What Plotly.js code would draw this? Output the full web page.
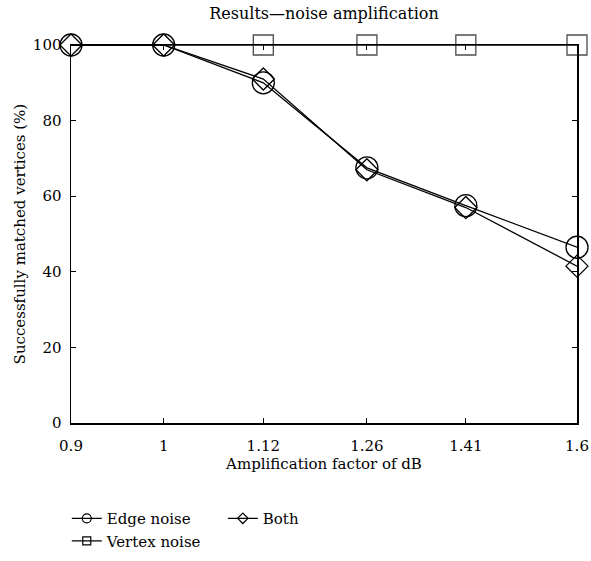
<!DOCTYPE html>
<html>
<head>
<meta charset="utf-8">
<script src="https://cdn.plot.ly/plotly-3.0.1.min.js"></script>
<style>html,body{margin:0;padding:0;background:#fff;}#chart{width:591px;height:561px;}</style>
</head>
<body>
<div id="chart"></div>
<script>
const amplification = [0.9, 1, 1.12, 1.26, 1.41, 1.6];
const tickLabels = ['0.9', '1', '1.12', '1.26', '1.41', '1.6'];
const edgeNoise = [100, 100, 90, 67.5, 57.5, 46.5];
const vertexNoise = [100, 100, 100, 100, 100, 100];
const bothNoise = [100, 100, 91, 67, 57, 41.5];

const FONT = 'DejaVu Serif';
const lineStyle = {color: '#000', width: 1.3};

const traces = [
  {x: amplification, y: vertexNoise, mode: 'lines+markers', name: 'Vertex noise', showlegend: false, cliponaxis: false,
   line: lineStyle, marker: {symbol: 'square-open', size: [0, 0, 20, 20, 20, 20], color: '#000', line: {width: 1.3, color: '#000'}}},
  {x: amplification, y: edgeNoise, mode: 'lines+markers', name: 'Edge noise', showlegend: false, cliponaxis: false,
   line: lineStyle, marker: {symbol: 'circle-open', size: 22, color: '#000', line: {width: 1.3, color: '#000'}}},
  {x: amplification, y: bothNoise, mode: 'lines+markers', name: 'Both', showlegend: false, cliponaxis: false,
   line: lineStyle, marker: {symbol: 'diamond-open', size: 17, color: '#000', line: {width: 1.3, color: '#000'}}},
  // legend entries
  {x: [null], y: [null], mode: 'lines+markers', name: 'Edge noise', legend: 'legend',
   line: lineStyle, marker: {symbol: 'circle-open', size: 9, color: '#000', line: {width: 1.2}}},
  {x: [null], y: [null], mode: 'lines+markers', name: 'Vertex noise', legend: 'legend',
   line: lineStyle, marker: {symbol: 'square-open', size: 8, color: '#000', line: {width: 1.2}}},
  {x: [null], y: [null], mode: 'lines+markers', name: 'Both', legend: 'legend2',
   line: lineStyle, marker: {symbol: 'diamond-open', size: 8, color: '#000', line: {width: 1.2}}}
];

const layout = {
  width: 591, height: 561,
  margin: {l: 71, r: 14, t: 45, b: 138, autoexpand: false},
  paper_bgcolor: '#fff', plot_bgcolor: '#fff',
  font: {family: FONT, size: 15, color: '#000'},
  title: {text: 'Results\u2014noise amplification', font: {family: FONT, size: 16, color: '#000'},
          xref: 'paper', x: 0.5, xanchor: 'center', yref: 'container', y: 0.977, yanchor: 'middle'},
  xaxis: {
    type: 'log', range: [Math.log10(0.9), Math.log10(1.6)],
    tickmode: 'array', tickvals: amplification, ticktext: tickLabels,
    ticks: 'inside', ticklen: 5, tickwidth: 1, tickcolor: '#000', ticklabelstandoff: 8,
    showline: true, linecolor: '#000', linewidth: 1.5, mirror: 'ticks',
    showgrid: false, zeroline: false,
    title: {text: 'Amplification factor of dB', font: {family: FONT, size: 15}, standoff: 5},
    tickfont: {family: FONT, size: 15}
  },
  yaxis: {
    range: [0, 100], tickvals: [0, 20, 40, 60, 80, 100],
    ticks: 'inside', ticklen: 5, tickwidth: 1, tickcolor: '#000', ticklabelstandoff: 5,
    showline: true, linecolor: '#000', linewidth: 1.5, mirror: 'ticks',
    showgrid: false, zeroline: false,
    tickfont: {family: FONT, size: 15}
  },
  annotations: [{
    text: 'Successfully matched vertices (%)', textangle: -90, showarrow: false,
    xref: 'paper', yref: 'paper', x: -0.1, y: 0.5, xanchor: 'center', yanchor: 'middle',
    font: {family: FONT, size: 15, color: '#000'}
  }],
  legend: {
    orientation: 'v', xref: 'container', x: 0.113, xanchor: 'left', yref: 'container', y: 0.105, yanchor: 'top',
    font: {family: FONT, size: 15, color: '#000'}, bgcolor: 'rgba(0,0,0,0)'
  },
  legend2: {
    orientation: 'v', xref: 'container', x: 0.377, xanchor: 'left', yref: 'container', y: 0.105, yanchor: 'top',
    font: {family: FONT, size: 15, color: '#000'}, bgcolor: 'rgba(0,0,0,0)'
  },
  showlegend: true
};

Plotly.newPlot('chart', traces, layout, {displayModeBar: false, staticPlot: true});
</script>
</body>
</html>
